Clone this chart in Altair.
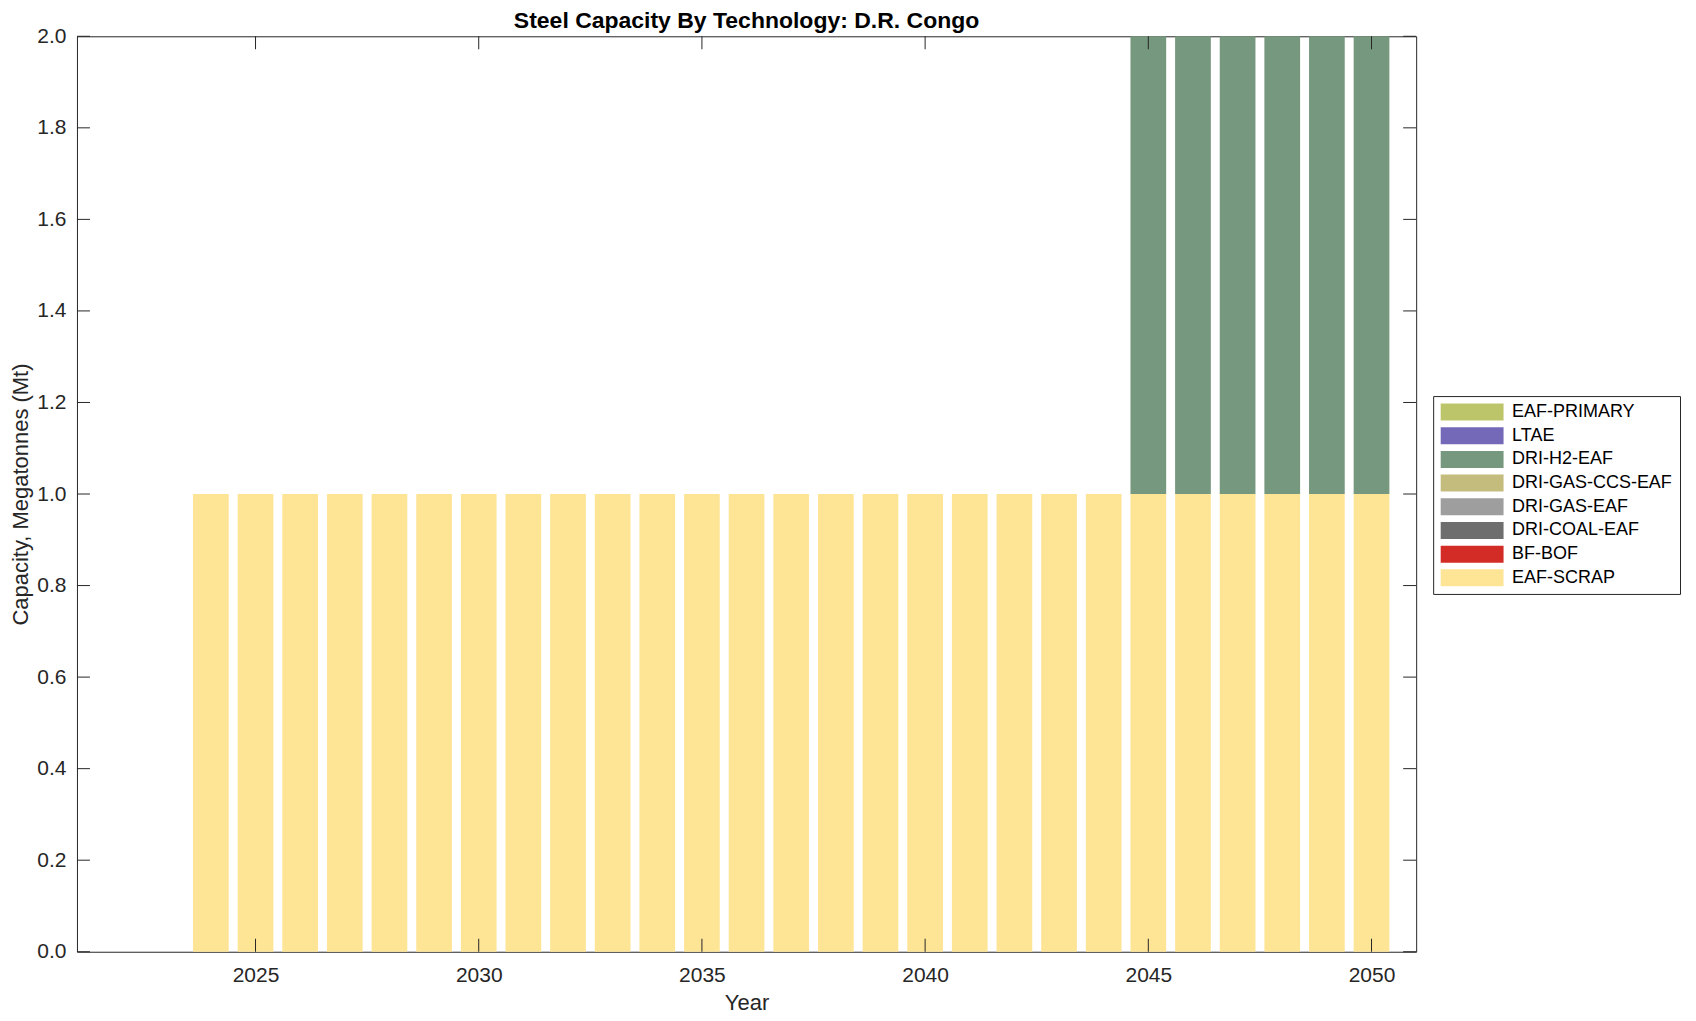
import altair as alt
import pandas as pd

# ---- data ----
years = [2024, 2025, 2026, 2027, 2028, 2029, 2030, 2031, 2032, 2033, 2034, 2035, 2036, 2037,
         2038, 2039, 2040, 2041, 2042, 2043, 2044, 2045, 2046, 2047, 2048, 2049, 2050]

# legend order (top to bottom)
techs = ["EAF-PRIMARY", "LTAE", "DRI-H2-EAF", "DRI-GAS-CCS-EAF",
         "DRI-GAS-EAF", "DRI-COAL-EAF", "BF-BOF", "EAF-SCRAP"]
colors = ["#BDC56A", "#7469B9", "#76987E", "#C4BC7C",
          "#9E9E9E", "#6E6E6E", "#D32B26", "#FEE596"]

eaf_primary     = [0, 0, 0, 0, 0, 0, 0, 0, 0, 0, 0, 0, 0, 0, 0, 0, 0, 0, 0, 0, 0, 0, 0, 0, 0, 0, 0]
ltae            = [0, 0, 0, 0, 0, 0, 0, 0, 0, 0, 0, 0, 0, 0, 0, 0, 0, 0, 0, 0, 0, 0, 0, 0, 0, 0, 0]
dri_h2_eaf      = [0, 0, 0, 0, 0, 0, 0, 0, 0, 0, 0, 0, 0, 0, 0, 0, 0, 0, 0, 0, 0, 1.0, 1.0, 1.0, 1.0, 1.0, 1.0]
dri_gas_ccs_eaf = [0, 0, 0, 0, 0, 0, 0, 0, 0, 0, 0, 0, 0, 0, 0, 0, 0, 0, 0, 0, 0, 0, 0, 0, 0, 0, 0]
dri_gas_eaf     = [0, 0, 0, 0, 0, 0, 0, 0, 0, 0, 0, 0, 0, 0, 0, 0, 0, 0, 0, 0, 0, 0, 0, 0, 0, 0, 0]
dri_coal_eaf    = [0, 0, 0, 0, 0, 0, 0, 0, 0, 0, 0, 0, 0, 0, 0, 0, 0, 0, 0, 0, 0, 0, 0, 0, 0, 0, 0]
bf_bof          = [0, 0, 0, 0, 0, 0, 0, 0, 0, 0, 0, 0, 0, 0, 0, 0, 0, 0, 0, 0, 0, 0, 0, 0, 0, 0, 0]
eaf_scrap       = [1.0, 1.0, 1.0, 1.0, 1.0, 1.0, 1.0, 1.0, 1.0, 1.0, 1.0, 1.0, 1.0, 1.0,
                   1.0, 1.0, 1.0, 1.0, 1.0, 1.0, 1.0, 1.0, 1.0, 1.0, 1.0, 1.0, 1.0]

series = [eaf_primary, ltae, dri_h2_eaf, dri_gas_ccs_eaf,
          dri_gas_eaf, dri_coal_eaf, bf_bof, eaf_scrap]

x_ticks = [2025, 2030, 2035, 2040, 2045, 2050]
y_ticks = [0.0, 0.2, 0.4, 0.6, 0.8, 1.0, 1.2, 1.4, 1.6, 1.8, 2.0]
x_domain = [2021, 2051]
y_domain = [0, 2]
bar_width = 0.8

rows = []
for i, (tech, vals) in enumerate(zip(techs, series)):
    for yr, v in zip(years, vals):
        rows.append({"year": yr, "tech": tech, "value": v, "stack": len(techs) - 1 - i})
df = pd.DataFrame(rows)

FONT = "Liberation Sans"
TXT = "#262626"

xscale = alt.Scale(domain=x_domain, nice=False, zero=False)
yscale = alt.Scale(domain=y_domain, nice=False)

xaxis = alt.Axis(values=x_ticks, format="d", title="Year", grid=False,
                 ticks=False, tickSize=0, domain=False, labelPadding=13, titlePadding=7)
yaxis = alt.Axis(values=y_ticks, format=".1f", title="Capacity, Megatonnes (Mt)",
                 grid=False, ticks=False, tickSize=0, domain=False,
                 labelPadding=11, titlePadding=4)

bars = (
    alt.Chart(df)
    .transform_window(cum="sum(value)", groupby=["year"],
                      sort=[alt.SortField("stack", order="ascending")], frame=[None, 0])
    .transform_filter("datum.value > 0")
    .transform_calculate(y0="datum.cum - datum.value",
                         xa=f"datum.year - {bar_width / 2}",
                         xb=f"datum.year + {bar_width / 2}")
    .mark_rect()
    .encode(
        x=alt.X("xa:Q", scale=xscale, axis=xaxis),
        x2="xb:Q",
        y=alt.Y("y0:Q", scale=yscale, axis=yaxis),
        y2="cum:Q",
        color=alt.Color("tech:N", scale=alt.Scale(domain=techs, range=colors),
                        legend=alt.Legend(
                            title=None, orient="none", legendX=1357, legendY=360,
                            symbolType="M-3.7,-1L3.7,-1L3.7,1L-3.7,1Z", symbolSize=289,
                            symbolOffset=23, labelOffset=31, labelFontSize=18,
                            labelFont=FONT, labelColor="black", padding=7, rowPadding=5.7,
                            strokeColor=TXT, fillColor="white", symbolStrokeWidth=0,
                            symbolOpacity=1, labelLimit=300)),
    )
)

xt = pd.DataFrame({"t": x_ticks})
yt = pd.DataFrame({"t": y_ticks})
tick_style = dict(thickness=1, size=13, color=TXT, opacity=1)

bottom_ticks = alt.Chart(xt).mark_tick(orient="vertical", yOffset=-6.5, **tick_style).encode(
    x=alt.X("t:Q", scale=xscale, axis=xaxis), y=alt.datum(y_domain[0]))
top_ticks = alt.Chart(xt).mark_tick(orient="vertical", yOffset=6.5, **tick_style).encode(
    x=alt.X("t:Q", scale=xscale, axis=xaxis), y=alt.datum(y_domain[1]))
left_ticks = alt.Chart(yt).mark_tick(orient="horizontal", xOffset=6.5, **tick_style).encode(
    y=alt.Y("t:Q", scale=yscale, axis=yaxis), x=alt.datum(x_domain[0]))
right_ticks = alt.Chart(yt).mark_tick(orient="horizontal", xOffset=-6.5, **tick_style).encode(
    y=alt.Y("t:Q", scale=yscale, axis=yaxis), x=alt.datum(x_domain[1]))

chart = (
    alt.layer(bars, bottom_ticks, top_ticks, left_ticks, right_ticks)
    .properties(
        width=1340, height=916,
        title=alt.Title("Steel Capacity By Technology: D.R. Congo", fontSize=23,
                        fontWeight="bold", font=FONT, color="black", offset=-8),
        autosize=alt.AutoSizeParams(type="none"),
        padding={"left": 69, "top": 28, "right": 272, "bottom": 66},
    )
    .configure_view(stroke=TXT, strokeWidth=1)
    .configure_axis(labelFont=FONT, titleFont=FONT, labelFontSize=21, titleFontSize=22,
                    labelColor=TXT, titleColor=TXT, titleFontWeight="normal")
)

chart.save("out.html", embed_options={"renderer": "svg", "actions": False})
